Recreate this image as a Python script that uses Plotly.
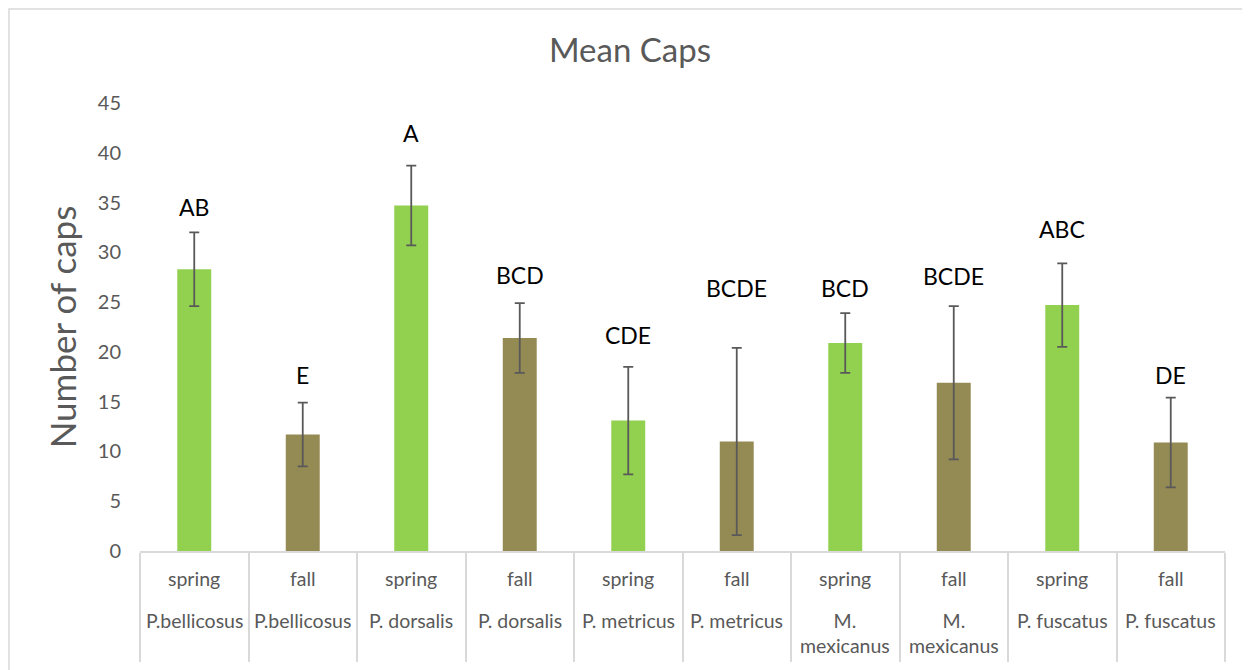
import plotly.graph_objects as go

seasons = ["spring", "fall", "spring", "fall", "spring", "fall", "spring", "fall", "spring", "fall"]
species = ["P.bellicosus", "P.bellicosus", "P. dorsalis", "P. dorsalis", "P. metricus",
           "P. metricus", "M.<br>mexicanus", "M.<br>mexicanus", "P. fuscatus", "P. fuscatus"]
mean_caps = [28.3, 11.7, 34.7, 21.4, 13.1, 11.0, 20.9, 16.9, 24.7, 10.9]
err_caps = [3.7, 3.2, 4.0, 3.5, 5.4, 9.4, 3.0, 7.7, 4.2, 4.5]
letters = ["AB", "E", "A", "BCD", "CDE", "BCDE", "BCD", "BCDE", "ABC", "DE"]
letter_y = [34.6, 17.7, 42.0, 27.7, 21.7, 26.4, 26.4, 27.6, 32.3, 17.7]

colors = {"spring": "#92D050", "fall": "#948A54"}
cats = [f"{se} {sp}" for se, sp in zip(seasons, species)]

FONT = "Lato, 'Open Sans', sans-serif"
GRAY = "#595959"

W, H = 1242, 662
L, T, R, B = 132, 95, 25, 119

fig = go.Figure()
fig.add_trace(go.Bar(
    x=cats, y=mean_caps,
    marker=dict(color=[colors[s] for s in seasons], line=dict(width=0)),
    error_y=dict(type="data", array=err_caps, visible=True,
                 color="#595959", thickness=1.8, width=5),
    showlegend=False,
))

annotations = []
for c, t, ly in zip(cats, letters, letter_y):
    annotations.append(dict(x=c, y=ly, xref="x", yref="y", text=t, showarrow=False,
                            font=dict(family=FONT, size=23, color="#000000"),
                            xanchor="center", yanchor="middle"))
for c, se, sp in zip(cats, seasons, species):
    annotations.append(dict(x=c, y=-0.0603, xref="x", yref="paper", text=se, showarrow=False,
                            font=dict(family=FONT, size=19.5, color=GRAY),
                            xanchor="center", yanchor="middle"))
    annotations.append(dict(x=c, y=-0.125, xref="x", yref="paper", text=sp, showarrow=False,
                            font=dict(family=FONT, size=19.5, color=GRAY),
                            xanchor="center", yanchor="top"))

fig.update_layout(
    width=W, height=H,
    margin=dict(l=L, r=R, t=T, b=B, autoexpand=False),
    paper_bgcolor="white", plot_bgcolor="white",
    bargap=0.687,
    title=dict(text="Mean Caps", x=(630 - 8) / W, xref="container", xanchor="center",
               y=(H - 42) / H, yref="container", yanchor="middle",
               font=dict(family=FONT, size=33, color=GRAY)),
    font=dict(family=FONT, color=GRAY),
    annotations=annotations,
    shapes=[dict(type="rect", xref="paper", yref="paper",
                 x0=(1 - L) / 1085, x1=(1240 - L) / 1085,
                 y0=-0.3, y1=1 + (T - 1) / 448,
                 line=dict(color="#d9d9d9", width=1.5), fillcolor="rgba(0,0,0,0)",
                 layer="below")],
)

fig.update_xaxes(
    type="category", showticklabels=False, showgrid=False,
    showline=True, linecolor="#d9d9d9", linewidth=1.5,
    ticks="outside", tickson="boundaries", ticklen=109, tickcolor="#d9d9d9", tickwidth=1.5,
    automargin=False,
)
fig.update_yaxes(
    range=[0, 45], dtick=5, showgrid=False, zeroline=False, showline=False,
    ticks="", ticklabelstandoff=18,
    tickfont=dict(family=FONT, size=20, color=GRAY),
    title=dict(text="Number of caps", font=dict(family=FONT, size=35, color=GRAY), standoff=10),
    automargin=False,
)

fig.write_html("out.html")
